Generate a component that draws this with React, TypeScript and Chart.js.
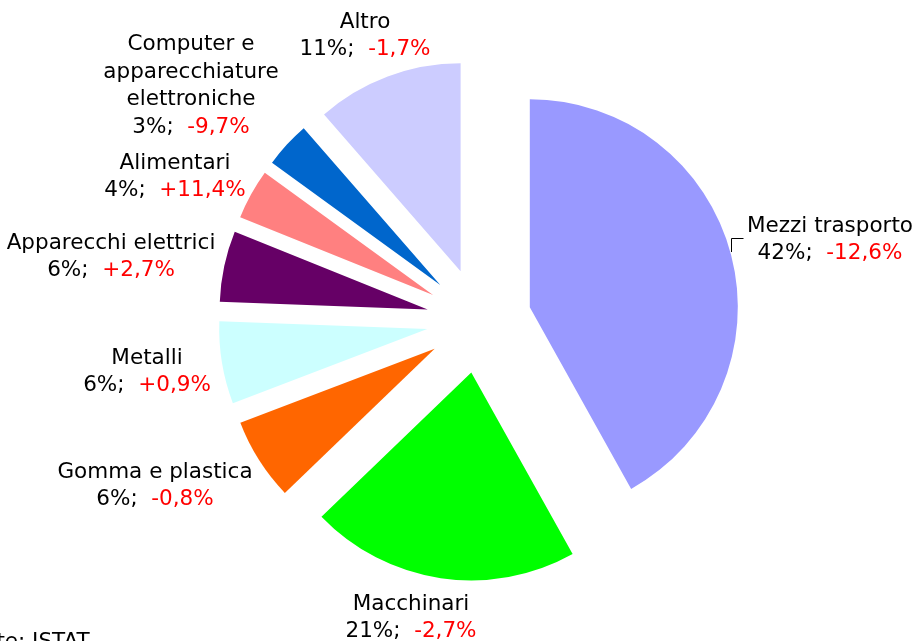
import React, { useEffect, useRef } from "react";
import { Chart, registerables } from "chart.js";

Chart.register(...registerables);

const categories = [
  "Mezzi trasporto",
  "Macchinari",
  "Gomma e plastica",
  "Metalli",
  "Apparecchi elettrici",
  "Alimentari",
  "Computer e\napparecchiature\nelettroniche",
  "Altro",
];
// slice sizes
const shares = [41.9, 20.9, 6.4, 6.4, 5.5, 3.9, 3.6, 11.4];
// percentages printed in the labels
const shareLabels = [42, 21, 6, 6, 6, 4, 3, 11];
const changes = [-12.6, -2.7, -0.8, 0.9, 2.7, 11.4, -9.7, -1.7];
const colors = ["#9999FF", "#00FF00", "#FF6600", "#CCFFFF", "#660066", "#FF8080", "#0066CC", "#CCCCFF"];
const labelCenters: [number, number][] = [
  [830, 240],
  [411, 618],
  [155, 486],
  [147, 372],
  [111, 257],
  [175, 177],
  [191, 86],
  [365, 36],
];
const sourceText = "Fonte: ISTAT";

const FONT = "21.5px 'DejaVu Sans', Verdana, sans-serif";
const LINE_H = 27.5;
const EXPLODE = 52.5;
const PIE_RADIUS = 208;

function fmtChange(v: number) {
  const s = Math.abs(v).toFixed(1).replace(".", ",");
  return (v < 0 ? "-" : "+") + s + "%";
}

// Draw each arc element translated outward along its mid-angle (uniform explosion)
const explodePlugin = {
  id: "explode",
  beforeDatasetDraw(chart: any, args: any) {
    const ctx = chart.ctx;
    const meta = args.meta;
    meta.data.forEach((el: any) => {
      const half = (el.startAngle + el.endAngle) / 2;
      ctx.save();
      ctx.translate(Math.cos(half) * EXPLODE, Math.sin(half) * EXPLODE);
      el.draw(ctx, chart.chartArea);
      ctx.restore();
    });
    return false;
  },
};

const labelPlugin = {
  id: "pieLabels",
  afterDraw(chart: any) {
    const ctx = chart.ctx;
    ctx.save();
    ctx.font = FONT;
    ctx.textBaseline = "middle";
    categories.forEach((cat, i) => {
      const lines = cat.split("\n");
      const [cx, cy] = labelCenters[i];
      const total = lines.length + 1;
      const y0 = cy - ((total - 1) * LINE_H) / 2;
      ctx.textAlign = "center";
      ctx.fillStyle = "#000000";
      lines.forEach((ln, k) => ctx.fillText(ln, cx, y0 + k * LINE_H));
      const p1 = shareLabels[i] + "%; ";
      const p2 = " " + fmtChange(changes[i]);
      const w1 = ctx.measureText(p1).width;
      const w2 = ctx.measureText(p2).width;
      const x = cx - (w1 + w2) / 2;
      const y = y0 + lines.length * LINE_H;
      ctx.textAlign = "left";
      ctx.fillStyle = "#000000";
      ctx.fillText(p1, x, y);
      ctx.fillStyle = "#FF0000";
      ctx.fillText(p2, x + w1, y);
    });
    // leader line for first slice
    ctx.strokeStyle = "#000000";
    ctx.lineWidth = 1;
    ctx.beginPath();
    ctx.moveTo(743.5, 238.5);
    ctx.lineTo(731.5, 238.5);
    ctx.lineTo(731.5, 252);
    ctx.stroke();
    // source
    ctx.fillStyle = "#000000";
    ctx.textAlign = "left";
    ctx.textBaseline = "alphabetic";
    ctx.fillText(sourceText, -42, 648);
    ctx.restore();
  },
};

export default function App() {
  const ref = useRef<HTMLCanvasElement>(null);
  useEffect(() => {
    if (!ref.current) return;
    const chart = new Chart(ref.current, {
      type: "pie",
      data: {
        labels: categories.map((c) => c.replace(/\n/g, " ")),
        datasets: [
          {
            data: shares,
            backgroundColor: colors,
            borderWidth: 0,
            offset: 0,
            hoverOffset: 0,
            radius: PIE_RADIUS,
          } as any,
        ],
      },
      options: {
        responsive: false,
        devicePixelRatio: 1,
        animation: false,
        radius: PIE_RADIUS,
        layout: { padding: { left: 44, right: 0, top: 0, bottom: 0 } },
        plugins: { legend: { display: false }, tooltip: { enabled: false } },
        events: [],
      } as any,
      plugins: [explodePlugin, labelPlugin],
    });
    return () => chart.destroy();
  }, []);
  return (
    <div style={{ position: "absolute", left: 0, top: 0, width: 914, height: 641, background: "#fff" }}>
      <canvas ref={ref} width={914} height={641} style={{ display: "block" }} />
    </div>
  );
}
